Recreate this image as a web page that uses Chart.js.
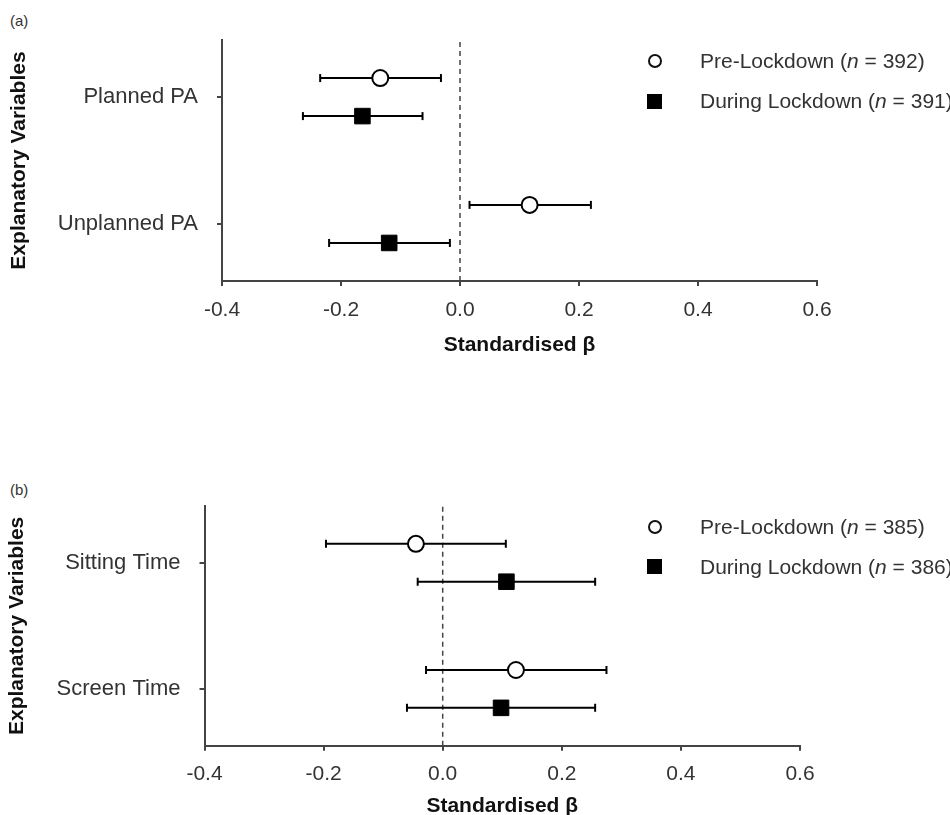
<!DOCTYPE html>
<html>
<head>
<meta charset="utf-8">
<script src="https://cdn.jsdelivr.net/npm/chart.js@4.4.1/dist/chart.umd.min.js"></script>
<style>
html, body { margin:0; padding:0; background:#fff; overflow:hidden; }
body { width:950px; height:815px; position:relative; font-family:"Liberation Sans", Arial, sans-serif; color:#333; }
canvas { position:absolute; left:0; }
#chart_a { top:0; }
#chart_b { top:440px; }
.tag { position:absolute; left:10px; font-size:15px; line-height:18px; color:#333; }
.lg_text { position:absolute; left:700px; font-size:21px; line-height:24px; color:#333; white-space:nowrap; }
.lg_circle { position:absolute; left:648px; width:10px; height:10px; border:2px solid #111; border-radius:50%; background:#fff; }
.lg_square { position:absolute; left:647px; width:15px; height:15px; background:#000; }
</style>
</head>
<body>
<div class="tag" style="top:12px">(a)</div>
<div class="tag" style="top:481px">(b)</div>
<canvas id="chart_a" width="950" height="400"></canvas>
<canvas id="chart_b" width="950" height="380"></canvas>
<div id="legend_a"></div>
<div id="legend_b"></div>
<script>
// ----------------------------------------------------------------------
//	data (standardised beta, 95% CI)
// ----------------------------------------------------------------------
const cats_a = ["Planned PA", "Unplanned PA"]
const pre_a = [-0.134, 0.117]
const pre_a_lo = [-0.235, 0.016]
const pre_a_hi = [-0.032, 0.220]
const dur_a = [-0.164, -0.119]
const dur_a_lo = [-0.264, -0.220]
const dur_a_hi = [-0.063, -0.017]

const cats_b = ["Sitting Time", "Screen Time"]
const pre_b = [-0.045, 0.123]
const pre_b_lo = [-0.196, -0.028]
const pre_b_hi = [0.106, 0.275]
const dur_b = [0.107, 0.098]
const dur_b_lo = [-0.042, -0.060]
const dur_b_hi = [0.256, 0.256]

const groups = ["Pre-Lockdown", "During Lockdown"]
const n_a = [392, 391]
const n_b = [385, 386]

const x_ticks = [-0.4, -0.2, 0.0, 0.2, 0.4, 0.6]

// ----------------------------------------------------------------------
const OFFSET = 0.15
const Y_MIN = 0.55
const Y_MAX = 2.45
const AXIS_COLOR = "#444"
const TEXT_COLOR = "#333"

Chart.defaults.font.family = "'Liberation Sans', Arial, sans-serif"
Chart.defaults.color = TEXT_COLOR

// ----------------------------------------------------------------------
function bar_sets (cats, lo, hi, dy)
{
	const sets = []
	for (let it = 0; it < cats.length; it++)
		{
		const yy = cats.length - it + dy
		sets.push ({
			showLine: true,
			data: [{x: lo[it], y: yy}, {x: hi[it], y: yy}],
			borderColor: "#000",
			borderWidth: 2,
			pointStyle: "line",
			pointRotation: 90,
			pointRadius: 4,
			pointBorderWidth: 2,
			pointBorderColor: "#000",
			order: 1
			})
		}
	return sets
}

// ----------------------------------------------------------------------
function draw_panel (id, cats, pre, pre_lo, pre_hi, dur, dur_lo, dur_hi, geo)
{
	const nn = cats.length
	const datasets = []

	datasets.push ({
		showLine: true,
		data: [{x: 0, y: Y_MIN}, {x: 0, y: Y_MAX}],
		borderColor: AXIS_COLOR,
		borderWidth: 1.5,
		borderDash: [5, 4],
		pointRadius: 0,
		order: 2
		})

	bar_sets (cats, pre_lo, pre_hi, OFFSET).forEach (ss => datasets.push (ss))
	bar_sets (cats, dur_lo, dur_hi, -OFFSET).forEach (ss => datasets.push (ss))

	datasets.push ({
		label: groups[0],
		data: pre.map ((v, i) => ({x: v, y: nn - i + OFFSET})),
		pointStyle: "circle",
		pointRadius: 8,
		pointBackgroundColor: "#fff",
		pointBorderColor: "#000",
		pointBorderWidth: 2,
		order: 0
		})

	datasets.push ({
		label: groups[1],
		data: dur.map ((v, i) => ({x: v, y: nn - i - OFFSET})),
		pointStyle: "rect",
		pointRadius: 11,
		pointBackgroundColor: "#000",
		pointBorderColor: "#000",
		pointBorderWidth: 1,
		order: 0
		})

	const config = {
		type: "scatter",
		data: { datasets: datasets },
		options: {
			responsive: false,
			animation: false,
			events: [],
			layout: { padding: { left: 0, top: geo.top, right: geo.right, bottom: 0 } },
			plugins: { legend: { display: false }, tooltip: { enabled: false } },
			scales: {
				x: {
					type: "linear",
					min: -0.4,
					max: 0.6,
					afterFit: (sc) => { sc.height = geo.x_height },
					afterBuildTicks: (sc) => { sc.ticks = x_ticks.map (v => ({value: v})) },
					border: { display: true, color: AXIS_COLOR, width: 2 },
					grid: { drawOnChartArea: false, drawTicks: true, tickLength: 5, color: AXIS_COLOR, lineWidth: 2 },
					ticks: {
						padding: 11.4,
						font: { size: 21 },
						color: TEXT_COLOR,
						callback: (v) => (Math.abs(v) < 1e-9 ? 0 : v).toFixed(1)
						},
					title: {
						display: true,
						text: "Standardised \u03B2",
						color: "#111",
						font: { size: 21, weight: "bold", lineHeight: 1.2 },
						padding: { top: 0, bottom: geo.x_title_pad }
						}
					},
				y: {
					type: "linear",
					min: Y_MIN,
					max: Y_MAX,
					afterFit: (sc) => { sc.width = geo.y_width },
					afterBuildTicks: (sc) => { sc.ticks = cats.map ((c, i) => ({value: nn - i})).reverse () },
					border: { display: true, color: AXIS_COLOR, width: 2 },
					grid: { drawOnChartArea: false, drawTicks: true, tickLength: 5, color: AXIS_COLOR, lineWidth: 2 },
					ticks: {
						padding: 19,
						font: { size: 22 },
						color: TEXT_COLOR,
						callback: (v) => cats[nn - Math.round (v)]
						},
					title: {
						display: true,
						text: "Explanatory Variables",
						color: "#111",
						font: { size: 21, weight: "bold", lineHeight: 1.2 },
						padding: { top: geo.y_title_pad, bottom: 0 }
						}
					}
				}
			}
		}

	return new Chart (document.getElementById (id), config)
}

// ----------------------------------------------------------------------
function draw_legend (id, counts, top)
{
	const box = document.getElementById (id)
	for (let it = 0; it < groups.length; it++)
		{
		const cy = top + it * 40
		const mark = document.createElement ("div")
		if (it === 0)
			{
			mark.className = "lg_circle"
			mark.style.top = (cy - 7) + "px"
			}
		else
			{
			mark.className = "lg_square"
			mark.style.top = (cy - 7.5) + "px"
			}
		box.appendChild (mark)

		const text = document.createElement ("div")
		text.className = "lg_text"
		text.style.top = (cy - 12) + "px"
		const ital = document.createElement ("i")
		ital.textContent = "n"
		text.appendChild (document.createTextNode (groups[it] + " ("))
		text.appendChild (ital)
		text.appendChild (document.createTextNode (" = " + counts[it] + ")"))
		box.appendChild (text)
		}
}

// ----------------------------------------------------------------------
draw_panel ("chart_a", cats_a, pre_a, pre_a_lo, pre_a_hi, dur_a, dur_a_lo, dur_a_hi,
	{ top: 40, right: 133, y_width: 222, x_height: 119, x_title_pad: 42.4, y_title_pad: 6.4 })

draw_panel ("chart_b", cats_b, pre_b, pre_b_lo, pre_b_hi, dur_b, dur_b_lo, dur_b_hi,
	{ top: 66, right: 150, y_width: 204.5, x_height: 74.3, x_title_pad: 1.4, y_title_pad: 4.9 })

draw_legend ("legend_a", n_a, 61)
draw_legend ("legend_b", n_b, 526.5)

// ----------------------------------------------------------------------
</script>
</body>
</html>
